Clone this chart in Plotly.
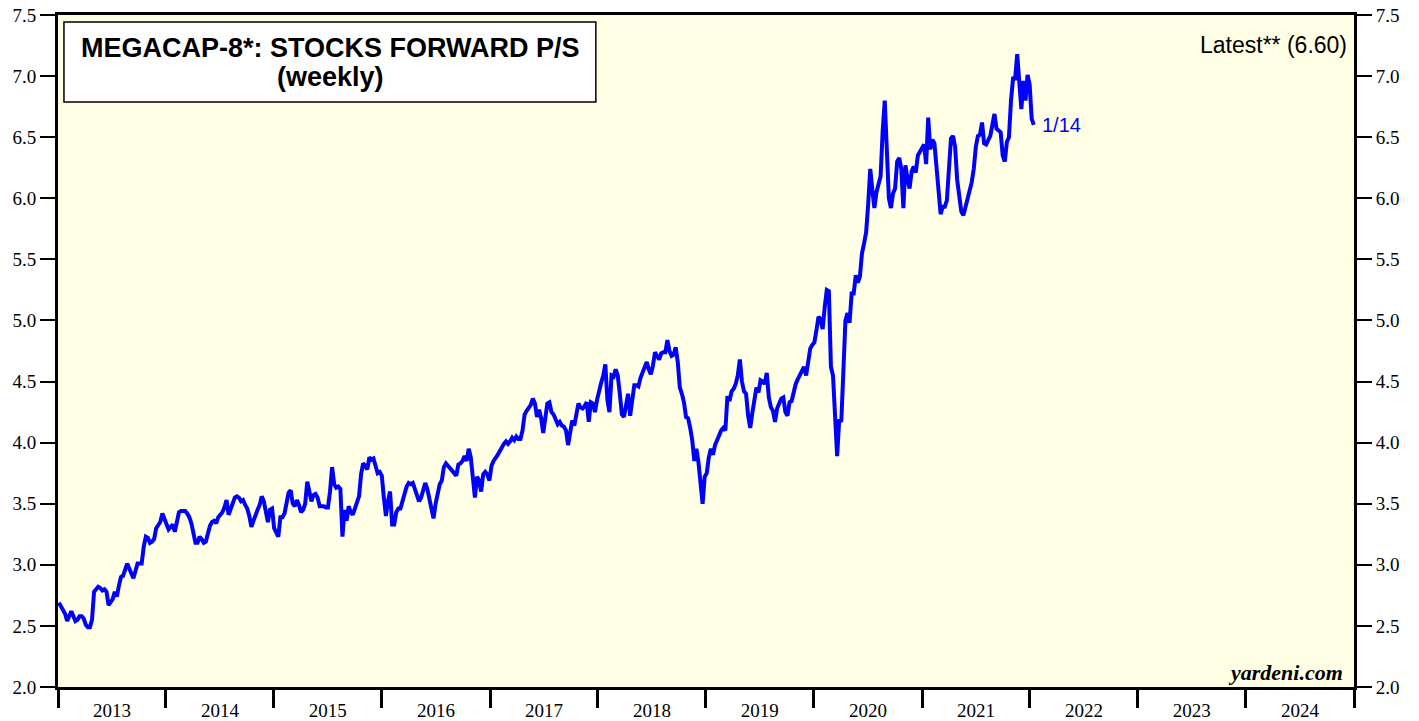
import pandas as pd
import plotly.graph_objects as go

# Weekly Megacap-8 forward P/S values, last week = 2022-01-14
v2013 = [2.69, 2.66, 2.64, 2.60, 2.54, 2.58, 2.62, 2.58, 2.54, 2.55, 2.58, 2.58, 2.56,
         2.51, 2.49, 2.49, 2.55, 2.78, 2.80, 2.82, 2.81, 2.79, 2.80, 2.78, 2.67, 2.69,
         2.72, 2.78, 2.74, 2.83, 2.90, 2.91, 2.95, 3.01, 2.97, 2.93, 2.89, 2.95, 3.01,
         3.01, 3.01, 3.15, 3.23, 3.22, 3.18, 3.19, 3.21, 3.30, 3.33, 3.35, 3.42, 3.38]
v2014 = [3.34, 3.29, 3.31, 3.33, 3.27, 3.35, 3.43, 3.44, 3.44, 3.44, 3.42, 3.39, 3.34,
         3.25, 3.18, 3.18, 3.23, 3.21, 3.18, 3.19, 3.26, 3.32, 3.35, 3.36, 3.34, 3.39,
         3.41, 3.43, 3.47, 3.53, 3.41, 3.46, 3.52, 3.55, 3.56, 3.55, 3.52, 3.53, 3.49,
         3.46, 3.40, 3.31, 3.36, 3.42, 3.45, 3.49, 3.56, 3.52, 3.44, 3.35, 3.45, 3.46]
v2015 = [3.30, 3.26, 3.23, 3.39, 3.39, 3.42, 3.49, 3.59, 3.61, 3.50, 3.48, 3.53, 3.49,
         3.43, 3.45, 3.50, 3.68, 3.60, 3.52, 3.57, 3.58, 3.55, 3.48, 3.48, 3.48, 3.47,
         3.47, 3.60, 3.80, 3.66, 3.63, 3.64, 3.62, 3.23, 3.45, 3.36, 3.48, 3.43, 3.41,
         3.46, 3.51, 3.56, 3.74, 3.83, 3.81, 3.78, 3.88, 3.86, 3.87, 3.80, 3.75, 3.76]
v2016 = [3.73, 3.55, 3.40, 3.52, 3.60, 3.33, 3.33, 3.43, 3.46, 3.46, 3.53, 3.60, 3.64,
         3.67, 3.66, 3.67, 3.62, 3.56, 3.52, 3.55, 3.62, 3.67, 3.62, 3.53, 3.47, 3.38,
         3.50, 3.60, 3.66, 3.69, 3.80, 3.83, 3.81, 3.79, 3.77, 3.74, 3.73, 3.82, 3.83,
         3.85, 3.89, 3.85, 3.95, 3.88, 3.68, 3.55, 3.72, 3.69, 3.60, 3.74, 3.76, 3.74, 3.69]
v2017 = [3.81, 3.85, 3.87, 3.90, 3.93, 3.97, 3.99, 4.01, 3.99, 4.01, 4.04, 4.02, 4.05,
         4.03, 4.03, 4.10, 4.23, 4.26, 4.28, 4.31, 4.36, 4.32, 4.21, 4.27, 4.20, 4.08,
         4.20, 4.32, 4.33, 4.25, 4.23, 4.19, 4.15, 4.17, 4.14, 4.13, 4.10, 3.98, 4.08,
         4.18, 4.14, 4.25, 4.32, 4.29, 4.28, 4.30, 4.33, 4.17, 4.33, 4.32, 4.25, 4.35]
v2018 = [4.44, 4.49, 4.55, 4.64, 4.35, 4.25, 4.55, 4.54, 4.60, 4.55, 4.40, 4.23, 4.21,
         4.32, 4.40, 4.22, 4.38, 4.47, 4.47, 4.46, 4.53, 4.57, 4.63, 4.66, 4.60, 4.56,
         4.63, 4.74, 4.71, 4.68, 4.73, 4.74, 4.74, 4.84, 4.75, 4.71, 4.72, 4.78, 4.66,
         4.45, 4.40, 4.33, 4.21, 4.20, 4.12, 4.02, 3.85, 3.95, 3.84, 3.65, 3.50, 3.72]
v2019 = [3.75, 3.88, 3.95, 3.90, 3.98, 4.02, 4.07, 4.10, 4.12, 4.10, 4.38, 4.34, 4.42,
         4.44, 4.48, 4.55, 4.68, 4.50, 4.42, 4.40, 4.22, 4.12, 4.24, 4.35, 4.45, 4.41,
         4.51, 4.50, 4.48, 4.57, 4.37, 4.29, 4.26, 4.17, 4.28, 4.32, 4.36, 4.37, 4.25,
         4.22, 4.33, 4.34, 4.42, 4.48, 4.52, 4.55, 4.58, 4.62, 4.55, 4.68, 4.77, 4.80]
v2020 = [4.82, 4.92, 5.03, 5.01, 4.93, 5.11, 5.25, 5.24, 4.62, 4.55, 4.18, 3.89, 4.19,
         4.17, 4.58, 5.00, 5.06, 4.98, 5.22, 5.22, 5.37, 5.31, 5.36, 5.55, 5.63, 5.72,
         5.95, 6.24, 6.07, 5.92, 6.05, 6.13, 6.18, 6.55, 6.80, 6.40, 6.00, 5.92, 6.04,
         6.08, 6.30, 6.33, 6.24, 5.92, 6.27, 6.16, 6.08, 6.22, 6.26, 6.21, 6.35, 6.38]
v2021 = [6.42, 6.44, 6.28, 6.66, 6.40, 6.48, 6.45, 6.28, 6.04, 5.87, 5.93, 5.93, 5.98,
         6.27, 6.49, 6.51, 6.42, 6.15, 6.01, 5.89, 5.86, 5.93, 5.97, 6.05, 6.13, 6.24,
         6.42, 6.51, 6.52, 6.62, 6.45, 6.44, 6.48, 6.51, 6.60, 6.69, 6.57, 6.55, 6.54,
         6.35, 6.30, 6.46, 6.50, 6.80, 6.98, 6.98, 7.18, 6.95, 6.73, 6.96, 6.80, 7.01, 6.93]
v2022 = [6.65, 6.60]

values = v2013 + v2014 + v2015 + v2016 + v2017 + v2018 + v2019 + v2020 + v2021 + v2022
last_date = "2022-01-14"
last_label = "1/14"
y_ticks = [2.0, 2.5, 3.0, 3.5, 4.0, 4.5, 5.0, 5.5, 6.0, 6.5, 7.0, 7.5]

dates = pd.date_range(end=last_date, periods=len(values), freq="7D")

BLUE = "#0000FF"
SERIF = "Liberation Serif, Times New Roman, serif"
SANS = "Liberation Sans, Arial, sans-serif"

fig = go.Figure()
fig.add_trace(go.Scatter(x=dates, y=values, mode="lines",
                         line=dict(color=BLUE, width=4), hoverinfo="skip",
                         showlegend=False))
# invisible copy so the right-hand axis is drawn
fig.add_trace(go.Scatter(x=dates, y=values, mode="lines", yaxis="y2",
                         line=dict(color="rgba(0,0,0,0)", width=0), hoverinfo="skip",
                         showlegend=False))

axis_y_common = dict(range=[2.0, 7.5], tickvals=y_ticks, tickformat=".1f",
                     ticks="outside", ticklen=15, tickwidth=2, tickcolor="black",
                     showline=True, linewidth=3, linecolor="black",
                     showgrid=False, zeroline=False, automargin=False,
                     ticklabeloverflow="allow",
                     tickfont=dict(family=SERIF, size=19, color="black"))

fig.update_layout(
    width=1419, height=721,
    margin=dict(l=58, r=65, t=15, b=34, autoexpand=False),
    paper_bgcolor="white",
    plot_bgcolor="#FFFFE6",
    xaxis=dict(range=["2013-01-01", "2025-01-01"], type="date",
               tick0="2013-01-01", dtick="M12", tickformat="%Y",
               ticklabelmode="period", ticks="outside", ticklen=18, tickwidth=2.5,
               tickcolor="black", showline=True, linewidth=3, linecolor="black",
               mirror=True, showgrid=False, zeroline=False, automargin=False,
               ticklabelstandoff=-14, ticklabeloverflow="allow",
               tickfont=dict(family=SERIF, size=19, color="black")),
    yaxis=dict(side="left", **axis_y_common),
    yaxis2=dict(side="right", overlaying="y", **axis_y_common),
)

# title box
fig.add_shape(type="rect", xref="paper", yref="paper",
              x0=0.0046, x1=0.415, y0=0.8705, y1=0.9896,
              fillcolor="white", line=dict(color="black", width=1.5), layer="above")
fig.add_annotation(xref="paper", yref="paper", x=0.21, y=0.951,
                   text="<b>MEGACAP-8*: STOCKS FORWARD P/S</b>",
                   showarrow=False, xanchor="center", yanchor="middle",
                   font=dict(family=SANS, size=27, color="black"))
fig.add_annotation(xref="paper", yref="paper", x=0.21, y=0.908,
                   text="<b>(weekly)</b>",
                   showarrow=False, xanchor="center", yanchor="middle",
                   font=dict(family=SANS, size=27, color="black"))

fig.add_annotation(xref="paper", yref="paper", x=0.996, y=0.955,
                   text=f"Latest** ({values[-1]:.2f})", showarrow=False,
                   xanchor="right", yanchor="middle",
                   font=dict(family=SANS, size=23, color="black"))

fig.add_annotation(x=dates[-1], y=values[-1], text=last_label, showarrow=False,
                   xanchor="left", yanchor="middle", xshift=6,
                   font=dict(family=SANS, size=20, color=BLUE))

fig.add_annotation(xref="paper", yref="paper", x=0.993, y=0.022,
                   text="<b><i>yardeni.com</i></b>", showarrow=False,
                   xanchor="right", yanchor="middle",
                   font=dict(family=SERIF, size=22, color="black"))

# remove the default 8px page margin so the figure fills the window exactly
fig.write_html("out.html",
               config={"displayModeBar": False},
               post_script="document.body.style.margin='0';"
                           "document.body.style.overflow='hidden';")
